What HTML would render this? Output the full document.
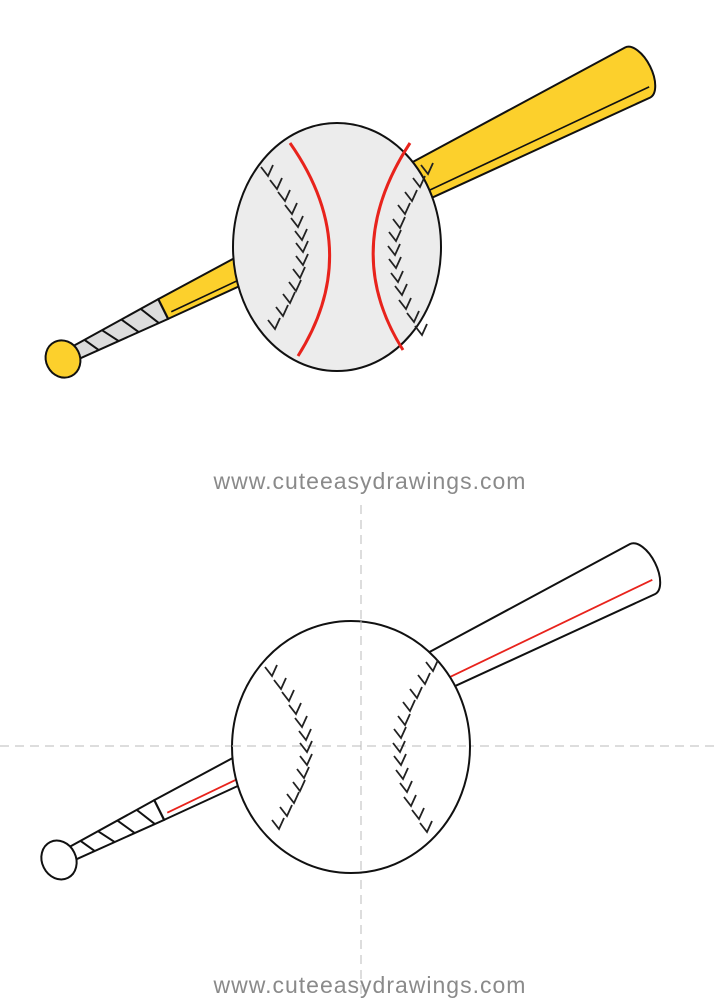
<!DOCTYPE html>
<html><head><style>
html,body{margin:0;padding:0;background:#fff;}
svg{display:block;}
text{font-family:"Liberation Sans",sans-serif;}
</style></head><body>
<svg width="720" height="1000" viewBox="0 0 720 1000" xmlns="http://www.w3.org/2000/svg">
<defs>
<path id="c" d="M-7,-5 L0,4 L5,-7" fill="none" stroke="#222" stroke-width="1.8"/>
</defs>

<line x1="361" y1="505" x2="361" y2="1000" stroke="#bbb" stroke-width="1" stroke-dasharray="9,6"/>
<line x1="0" y1="746" x2="720" y2="746" stroke="#bbb" stroke-width="1" stroke-dasharray="9,6"/>

<!-- TOP BAT -->
<g transform="translate(63,359) rotate(-26.5)">
  <path d="M14,-7 L112,-11 L112,11 L14,7 Z" fill="#dcdcdc" stroke="#111" stroke-width="2"/>
  <g stroke="#111" stroke-width="2">
    <line x1="28" y1="-7" x2="36" y2="8"/>
    <line x1="48" y1="-8" x2="58" y2="9"/>
    <line x1="70" y1="-9" x2="80" y2="10"/>
    <line x1="92" y1="-10" x2="102" y2="11"/>
  </g>
  <path d="M112,-11 L642,-28 A14,28 0 0 1 642,28 L112,11 Z" fill="#fcd02c" stroke="#111" stroke-width="2"/>
  <line x1="112" y1="-11" x2="112" y2="11" stroke="#111" stroke-width="2"/>
  <line x1="118" y1="6" x2="646" y2="18" stroke="#111" stroke-width="1.6"/>
  <ellipse cx="0" cy="0" rx="17" ry="19" fill="#fcd02c" stroke="#111" stroke-width="2"/>
</g>

<!-- TOP BALL -->
<ellipse cx="337" cy="247" rx="104" ry="124" fill="#ececec" stroke="#111" stroke-width="2"/>
<path d="M290,143 Q365,250 298,356" fill="none" stroke="#e8231c" stroke-width="3"/>
<path d="M410,143 Q340,250 403,350" fill="none" stroke="#e8231c" stroke-width="3"/>
<g id="sl">
<use href="#c" x="268" y="172"/><use href="#c" x="277" y="185"/><use href="#c" x="285" y="197"/>
<use href="#c" x="292" y="210"/><use href="#c" x="298" y="223"/><use href="#c" x="302" y="236"/>
<use href="#c" x="303" y="248"/><use href="#c" x="303" y="261"/><use href="#c" x="300" y="274"/>
<use href="#c" x="296" y="287"/><use href="#c" x="290" y="299"/><use href="#c" x="283" y="312"/>
<use href="#c" x="275" y="325"/>
</g>
<g id="sr">
<use href="#c" x="428" y="170"/><use href="#c" x="420" y="183"/><use href="#c" x="412" y="197"/>
<use href="#c" x="405" y="210"/><use href="#c" x="400" y="224"/><use href="#c" x="396" y="237"/>
<use href="#c" x="395" y="251"/><use href="#c" x="396" y="264"/><use href="#c" x="398" y="278"/>
<use href="#c" x="402" y="291"/><use href="#c" x="406" y="305"/><use href="#c" x="414" y="318"/>
<use href="#c" x="422" y="331"/>
</g>

<text x="370" y="489" font-size="23" fill="#8a8a8a" text-anchor="middle" letter-spacing="1">www.cuteeasydrawings.com</text>

<!-- BOTTOM BAT -->
<g transform="translate(59,860) rotate(-26.5)">
  <path d="M14,-7 L112,-11 L112,11 L14,7 Z" fill="#fff" stroke="#111" stroke-width="2"/>
  <g stroke="#111" stroke-width="2">
    <line x1="28" y1="-7" x2="36" y2="8"/>
    <line x1="48" y1="-8" x2="58" y2="9"/>
    <line x1="70" y1="-9" x2="80" y2="10"/>
    <line x1="92" y1="-10" x2="102" y2="11"/>
  </g>
  <path d="M112,-11 L652,-28 A14,28 0 0 1 652,28 L112,11 Z" fill="#fff" stroke="#111" stroke-width="2"/>
  <line x1="112" y1="-11" x2="112" y2="11" stroke="#111" stroke-width="2"/>
  <line x1="118" y1="6" x2="656" y2="14" stroke="#e8231c" stroke-width="1.8"/>
  <ellipse cx="0" cy="0" rx="17" ry="20" fill="#fff" stroke="#111" stroke-width="2"/>
</g>

<!-- BOTTOM BALL -->
<ellipse cx="351" cy="747" rx="119" ry="126" fill="#fff" stroke="#111" stroke-width="2"/>
<line x1="361" y1="621" x2="361" y2="873" stroke="#bbb" stroke-width="1" stroke-dasharray="9,6"/>
<line x1="232" y1="746" x2="470" y2="746" stroke="#bbb" stroke-width="1" stroke-dasharray="9,6"/>
<use href="#sl" x="4" y="500"/>
<use href="#sr" x="5" y="497"/>

<text x="370" y="993" font-size="23" fill="#8a8a8a" text-anchor="middle" letter-spacing="1">www.cuteeasydrawings.com</text>
</svg>
</body></html>
